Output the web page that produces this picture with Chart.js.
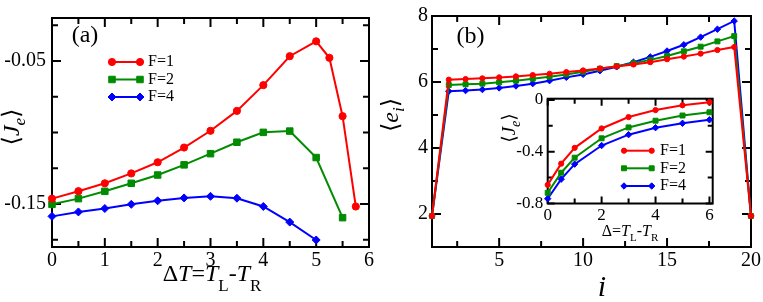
<!DOCTYPE html>
<html><head><meta charset="utf-8">
<script src="https://cdn.jsdelivr.net/npm/chart.js@4.4.1/dist/chart.umd.min.js"></script>
<style>
html,body{margin:0;padding:0;background:#fff;width:763px;height:302px;overflow:hidden}
canvas{position:absolute}
</style></head><body>
<canvas id="ca" style="left:0;top:0" width="380" height="302"></canvas>
<canvas id="cb" style="left:380px;top:0" width="383" height="302"></canvas>
<canvas id="ci" style="left:470px;top:84px" width="250" height="165"></canvas>
<script>
// ---------- data: panel (a) ----------
const dT_F1 = [0,0.5,1,1.5,2,2.5,3,3.5,4,4.5,5,5.25,5.5,5.75];
const Je_F1 = [-0.1462,-0.1410,-0.1355,-0.1286,-0.1208,-0.1105,-0.0988,-0.0849,-0.0669,-0.0467,-0.0363,-0.0478,-0.0886,-0.1517];
const dT_F2 = [0,0.5,1,1.5,2,2.5,3,3.5,4,4.5,5,5.5];
const Je_F2 = [-0.1502,-0.1462,-0.1411,-0.1355,-0.1297,-0.1226,-0.1148,-0.1068,-0.0999,-0.0990,-0.1175,-0.1595];
const dT_F4 = [0,0.5,1,1.5,2,2.5,3,3.5,4,4.5,5];
const Je_F4 = [-0.1586,-0.1555,-0.1531,-0.1502,-0.1477,-0.1457,-0.1446,-0.1459,-0.1517,-0.1626,-0.1751];
const aXLabels = [0,1,2,3,4,5,6];
const aYLabels = [-0.15,-0.05];

// ---------- data: panel (b) ----------
const site = [1,2,3,4,5,6,7,8,9,10,11,12,13,14,15,16,17,18,19,20];
const e_F1 = [1.94,6.07,6.09,6.11,6.14,6.17,6.21,6.25,6.30,6.35,6.41,6.47,6.53,6.60,6.69,6.77,6.86,6.97,7.06,1.94];
const e_F2 = [1.94,5.91,5.93,5.95,5.99,6.04,6.10,6.16,6.23,6.31,6.40,6.48,6.57,6.67,6.79,6.93,7.07,7.23,7.39,1.94];
const e_F4 = [1.94,5.72,5.74,5.77,5.82,5.88,5.95,6.04,6.14,6.23,6.34,6.46,6.60,6.76,6.94,7.13,7.36,7.60,7.85,1.94];
const bXLabels = [5,10,15,20];
const bYLabels = [2,4,6,8];

// ---------- data: inset ----------
const inDelta = [0,0.5,1,2,3,4,5,6];
const inJ_F1 = [-0.656,-0.492,-0.370,-0.220,-0.132,-0.078,-0.041,-0.017];
const inJ_F2 = [-0.717,-0.562,-0.446,-0.296,-0.212,-0.160,-0.120,-0.095];
const inJ_F4 = [-0.763,-0.612,-0.496,-0.352,-0.268,-0.214,-0.180,-0.153];
const inXLabels = [0,2,4,6];
const inYLabels = [-0.8,-0.4,0];

const seriesNames = ['F=1','F=2','F=4'];

// ---------- styling ----------
const SERIF = '"Liberation Serif","Times New Roman","DejaVu Serif",serif';
const RED = '#ff0000', GREEN = '#008b00', BLUE = '#0000ff';

function steps(a, b, s) { const r = []; for (let v = a; v <= b + 1e-9; v += s) r.push(+v.toFixed(4)); return r; }

function drawMarker(ctx, style, x, y, r, color) {
  ctx.save();
  ctx.fillStyle = color; ctx.strokeStyle = color; ctx.lineWidth = 1;
  ctx.beginPath();
  if (style === 'circle') ctx.arc(x, y, r, 0, Math.PI * 2);
  else if (style === 'rect') { const h = r * Math.SQRT1_2; ctx.rect(x - h, y - h, 2 * h, 2 * h); }
  else { ctx.moveTo(x - r, y); ctx.lineTo(x, y - r); ctx.lineTo(x + r, y); ctx.lineTo(x, y + r); ctx.closePath(); }
  ctx.fill(); ctx.stroke();
  ctx.restore();
}

function drawRich(ctx, it) {
  ctx.save();
  ctx.translate(it.x, it.y);
  if (it.rot) ctx.rotate(it.rot);
  ctx.fillStyle = '#000';
  ctx.textBaseline = it.baseline || 'alphabetic';
  const fonts = it.segs.map(s => (s.style || 'normal') + ' ' + s.size + 'px ' + SERIF);
  let w = 0;
  it.segs.forEach((s, i) => { ctx.font = fonts[i]; w += ctx.measureText(s.t).width + (s.gap || 0); });
  let x = it.align === 'left' ? 0 : -w / 2;
  it.segs.forEach((s, i) => { ctx.font = fonts[i]; ctx.fillText(s.t, x, s.dy || 0); x += ctx.measureText(s.t).width + (s.gap || 0); });
  ctx.restore();
}

const framePlugin = {
  id: 'frame',
  beforeDatasetsDraw(chart, args, o) {
    const { ctx, chartArea: a, scales } = chart;
    ctx.save();
    if (o.fill) { ctx.fillStyle = o.fill; ctx.fillRect(a.left, a.top, a.right - a.left, a.bottom - a.top); }
    ctx.strokeStyle = '#000'; ctx.lineWidth = o.lw;
    ctx.beginPath();
    o.xt.forEach(v => {
      const px = scales.x.getPixelForValue(v);
      const L = o.xMajor.some(m => Math.abs(m - v) < 1e-6) ? o.maj : o.min;
      ctx.moveTo(px, a.bottom); ctx.lineTo(px, a.bottom - L);
      ctx.moveTo(px, a.top); ctx.lineTo(px, a.top + L);
    });
    o.yt.forEach(v => {
      const py = scales.y.getPixelForValue(v);
      const L = o.yMajor.some(m => Math.abs(m - v) < 1e-6) ? o.maj : o.min;
      ctx.moveTo(a.left, py); ctx.lineTo(a.left + L, py);
      ctx.moveTo(a.right, py); ctx.lineTo(a.right - L, py);
    });
    ctx.stroke();
    ctx.strokeRect(a.left, a.top, a.right - a.left, a.bottom - a.top);
    ctx.restore();
  }
};

const textPlugin = {
  id: 'rich',
  afterDraw(chart, args, o) {
    const ctx = chart.ctx;
    (o.items || []).forEach(it => drawRich(ctx, it));
    (o.legend || []).forEach(l => {
      ctx.save();
      ctx.strokeStyle = l.color; ctx.lineWidth = l.lw;
      ctx.beginPath(); ctx.moveTo(l.x1, l.y); ctx.lineTo(l.x2, l.y); ctx.stroke();
      ctx.restore();
      drawMarker(ctx, l.style, l.x1, l.y, l.r, l.color);
      drawMarker(ctx, l.style, l.x2, l.y, l.r, l.color);
      ctx.save();
      ctx.fillStyle = '#000'; ctx.font = l.size + 'px ' + SERIF;
      ctx.textBaseline = 'middle'; ctx.textAlign = 'left';
      ctx.fillText(l.label, l.xt, l.y);
      ctx.restore();
    });
  }
};

function ds(label, xs, ys, color, style, r, lw) {
  return {
    label, data: xs.map((x, i) => ({ x, y: ys[i] })),
    borderColor: color, backgroundColor: color, borderWidth: lw,
    pointStyle: style, pointRadius: r, pointHoverRadius: r, pointBorderWidth: 1,
    tension: 0, clip: false, fill: false
  };
}

function axis(min, max, labels, fmt, fontSize, pad, fitFn) {
  return {
    type: 'linear', min, max,
    afterBuildTicks: s => { s.ticks = labels.map(v => ({ value: v })); },
    afterFit: fitFn,
    grid: { display: false, drawTicks: false },
    border: { display: false },
    ticks: { font: { family: SERIF, size: fontSize }, color: '#000', padding: pad, maxRotation: 0, autoSkip: false, callback: v => fmt(v) }
  };
}

const common = {
  responsive: false, animation: false, devicePixelRatio: 1, events: [],
};

// ---------- panel (a) ----------
new Chart(document.getElementById('ca'), {
  type: 'line',
  data: { datasets: [
    ds(seriesNames[0], dT_F1, Je_F1, RED, 'circle', 3.6, 2),
    ds(seriesNames[1], dT_F2, Je_F2, GREEN, 'rect', 4.6, 2),
    ds(seriesNames[2], dT_F4, Je_F4, BLUE, 'rectRot', 4, 2)
  ]},
  plugins: [framePlugin, textPlugin],
  options: Object.assign({}, common, {
    layout: { padding: { left: 0, right: 11, top: 8, bottom: 0 } },
    scales: {
      x: axis(0, 6, aXLabels, v => String(v), 20, 2, s => { s.height = 55; }),
      y: axis(-0.18, -0.02, aYLabels, v => v.toFixed(2), 20, 6, s => { s.width = 52; })
    },
    plugins: {
      legend: { display: false }, tooltip: { enabled: false },
      frame: { lw: 2, maj: 9, min: 6, xt: steps(0, 6, 0.5), xMajor: aXLabels, yt: steps(-0.175, -0.025, 0.025), yMajor: aYLabels },
      rich: {
        items: [
          { x: 85, y: 36, baseline: 'middle', segs: [{ t: '(a)', size: 24 }] },
          { x: 212, y: 281, segs: [
            { t: 'Δ', size: 24 }, { t: 'T', size: 24, style: 'italic' }, { t: '=', size: 24 },
            { t: 'T', size: 24, style: 'italic' }, { t: 'L', size: 17, dy: 10 }, { t: '-', size: 24 },
            { t: 'T', size: 24, style: 'italic' }, { t: 'R', size: 17, dy: 10 } ] },
          { x: 19, y: 127, rot: -Math.PI / 2, segs: [
            { t: '⟨', size: 24 }, { t: 'J', size: 24, style: 'italic' }, { t: 'e', size: 17, style: 'italic', dy: 6 }, { t: '⟩', size: 24 } ] }
        ],
        legend: [
          { x1: 112, x2: 140, xt: 148, y: 62, color: RED, style: 'circle', r: 3.6, lw: 2, label: seriesNames[0], size: 16 },
          { x1: 112, x2: 140, xt: 148, y: 79.5, color: GREEN, style: 'rect', r: 4.6, lw: 2, label: seriesNames[1], size: 16 },
          { x1: 112, x2: 140, xt: 148, y: 97, color: BLUE, style: 'rectRot', r: 4, lw: 2, label: seriesNames[2], size: 16 }
        ]
      }
    }
  })
});

// ---------- panel (b) ----------
new Chart(document.getElementById('cb'), {
  type: 'line',
  data: { datasets: [
    ds(seriesNames[0], site, e_F1, RED, 'circle', 2.6, 2),
    ds(seriesNames[1], site, e_F2, GREEN, 'rect', 3.5, 2),
    ds(seriesNames[2], site, e_F4, BLUE, 'rectRot', 3.2, 2)
  ]},
  plugins: [framePlugin, textPlugin],
  options: Object.assign({}, common, {
    layout: { padding: { left: 0, right: 12, top: 8, bottom: 0 } },
    scales: {
      x: axis(1, 20, bXLabels, v => String(v), 20, 2, s => { s.height = 55; }),
      y: axis(1, 8, bYLabels, v => String(v), 20, 4, s => { s.width = 52; })
    },
    plugins: {
      legend: { display: false }, tooltip: { enabled: false },
      frame: { lw: 2, maj: 9, min: 6, xt: steps(2.5, 20, 2.5), xMajor: bXLabels, yt: steps(2, 8, 1), yMajor: bYLabels },
      rich: {
        items: [
          { x: 90.5, y: 37, baseline: 'middle', segs: [{ t: '(b)', size: 24 }] },
          { x: 222, y: 296, segs: [{ t: 'i', size: 30, style: 'italic' }] },
          { x: 18, y: 115, rot: -Math.PI / 2, segs: [
            { t: '⟨', size: 24 }, { t: 'e', size: 24, style: 'italic' }, { t: 'i', size: 17, style: 'italic', dy: 6 }, { t: '⟩', size: 24 } ] }
        ]
      }
    }
  })
});

// ---------- inset ----------
new Chart(document.getElementById('ci'), {
  type: 'line',
  data: { datasets: [
    ds(seriesNames[0], inDelta, inJ_F1, RED, 'circle', 2.6, 2),
    ds(seriesNames[1], inDelta, inJ_F2, GREEN, 'rect', 3.5, 2),
    ds(seriesNames[2], inDelta, inJ_F4, BLUE, 'rectRot', 3.2, 2)
  ]},
  plugins: [framePlugin, textPlugin],
  options: Object.assign({}, common, {
    layout: { padding: { left: 0, right: 7.3, top: 6, bottom: 0 } },
    scales: {
      x: axis(0, 6.12, inXLabels, v => String(v), 17, 2, s => { s.height = 45.5; }),
      y: axis(-0.8, 0.01, inYLabels, v => (Math.abs(v) < 1e-9 ? '0' : v.toFixed(1)), 17, 4.5, s => { s.width = 77.7; })
    },
    plugins: {
      legend: { display: false }, tooltip: { enabled: false },
      frame: { fill: '#fff', lw: 2, maj: 7, min: 5, xt: steps(0, 6, 1), xMajor: inXLabels, yt: steps(-0.8, 0, 0.2), yMajor: inYLabels },
      rich: {
        items: [
          { x: 160, y: 152, segs: [
            { t: 'Δ', size: 16 }, { t: '=', size: 16 }, { t: 'T', size: 16, style: 'italic' }, { t: 'L', size: 11, dy: 5 },
            { t: '-', size: 16 }, { t: 'T', size: 16, style: 'italic' }, { t: 'R', size: 11, dy: 5 } ] },
          { x: 45, y: 44, rot: -Math.PI / 2, segs: [
            { t: '⟨', size: 19 }, { t: 'J', size: 19, style: 'italic' }, { t: 'e', size: 14, style: 'italic', dy: 5 }, { t: '⟩', size: 19 } ] }
        ],
        legend: [
          { x1: 154, x2: 181.7, xt: 190, y: 66.7, color: RED, style: 'circle', r: 2.6, lw: 2, label: seriesNames[0], size: 16 },
          { x1: 154, x2: 181.7, xt: 190, y: 84.3, color: GREEN, style: 'rect', r: 3.5, lw: 2, label: seriesNames[1], size: 16 },
          { x1: 154, x2: 181.7, xt: 190, y: 102, color: BLUE, style: 'rectRot', r: 3.2, lw: 2, label: seriesNames[2], size: 16 }
        ]
      }
    }
  })
});
</script>
</body></html>
